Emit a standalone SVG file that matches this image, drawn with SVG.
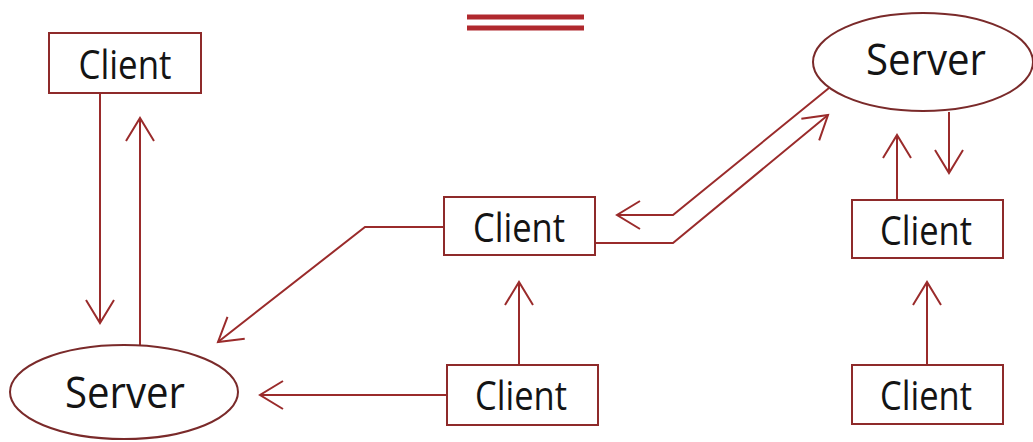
<svg xmlns="http://www.w3.org/2000/svg" width="1033" height="442" viewBox="0 0 1033 442">
  <style>
    .box { fill: #ffffff; stroke: #8e2a2a; stroke-width: 2; }
    .srv { fill: #ffffff; stroke: #7a2a2a; stroke-width: 2; }
    .lbl { font-family: "Open Sans", "Noto Sans", sans-serif; font-size: 40px; fill: #141414; text-anchor: middle; }
    .big { font-size: 44px; }
    .wire { fill: none; stroke: #9a2b2b; stroke-width: 2; }
    .rule { stroke: #b0292e; stroke-width: 5; }
  </style>
  <defs>
    <marker id="vee" markerUnits="userSpaceOnUse" markerWidth="40" markerHeight="40" viewBox="-30 -20 40 40" refX="0" refY="0" orient="auto">
      <path d="M-23,-14 L0,0 L-23,14" fill="none" stroke="#9a2b2b" stroke-width="2"/>
    </marker>
  </defs>
  <rect width="1033" height="442" fill="#ffffff"/>

  <!-- heading underline -->
  <g id="underline">
    <line class="rule" x1="467" y1="17" x2="584" y2="17"/>
    <line class="rule" x1="467" y1="28" x2="584" y2="28"/>
  </g>

  <!-- connectors -->
  <g id="connectors">
    <path class="wire" d="M100,93 V323" marker-end="url(#vee)"/>
    <path class="wire" d="M140,345 V118" marker-end="url(#vee)"/>
    <path class="wire" d="M447,395 H260" marker-end="url(#vee)"/>
    <path class="wire" d="M444,227 H365 L218,342" marker-end="url(#vee)"/>
    <path class="wire" d="M519,365 V282" marker-end="url(#vee)"/>
    <path class="wire" d="M829,88 L673,215 H617" marker-end="url(#vee)"/>
    <path class="wire" d="M595,243 H673 L828,115" marker-end="url(#vee)"/>
    <path class="wire" d="M949,112 V173" marker-end="url(#vee)"/>
    <path class="wire" d="M897,200 V135" marker-end="url(#vee)"/>
    <path class="wire" d="M927,365 V282" marker-end="url(#vee)"/>
  </g>

  <!-- nodes -->
  <g id="client-top-left">
    <rect class="box" x="49" y="33" width="152" height="60"/>
    <text class="lbl" x="125" y="79" textLength="93" lengthAdjust="spacingAndGlyphs">Client</text>
  </g>
  <g id="server-left">
    <ellipse class="srv" cx="124" cy="392" rx="114" ry="47"/>
    <text class="lbl big" x="125" y="408" textLength="120" lengthAdjust="spacingAndGlyphs">Server</text>
  </g>
  <g id="client-middle">
    <rect class="box" x="444" y="197" width="151" height="58"/>
    <text class="lbl" x="519" y="242" textLength="92" lengthAdjust="spacingAndGlyphs">Client</text>
  </g>
  <g id="client-bottom-middle">
    <rect class="box" x="447" y="365" width="151" height="60"/>
    <text class="lbl" x="521" y="410" textLength="92" lengthAdjust="spacingAndGlyphs">Client</text>
  </g>
  <g id="server-right">
    <ellipse class="srv" cx="923" cy="62" rx="110" ry="49"/>
    <text class="lbl big" x="926" y="75" textLength="120" lengthAdjust="spacingAndGlyphs">Server</text>
  </g>
  <g id="client-right">
    <rect class="box" x="852" y="200" width="151" height="58"/>
    <text class="lbl" x="926" y="245" textLength="92" lengthAdjust="spacingAndGlyphs">Client</text>
  </g>
  <g id="client-bottom-right">
    <rect class="box" x="852" y="365" width="151" height="59"/>
    <text class="lbl" x="926" y="410" textLength="92" lengthAdjust="spacingAndGlyphs">Client</text>
  </g>
</svg>
